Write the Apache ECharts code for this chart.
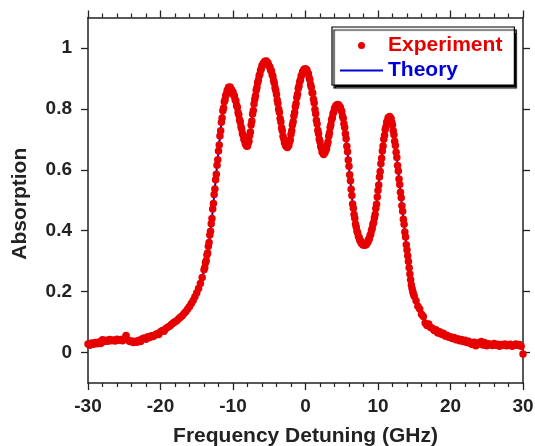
<!DOCTYPE html>
<html>
<head>
<meta charset="utf-8">
<script src="https://cdn.jsdelivr.net/npm/echarts@6/dist/echarts.min.js"></script>
<style>html,body{margin:0;padding:0;background:#fff;}#c{width:535px;height:446px;}</style>
</head>
<body>
<div id="c"></div>
<script>
// Axis ticks
const xTicks = [-30, -20, -10, 0, 10, 20, 30];
const yTicks = [0, 0.2, 0.4, 0.6, 0.8, 1];

// Theory curve: x from -30 to 30, step 0.5 GHz
const theoryStart = -30, theoryStep = 0.5;
const theoryY = [
  0.030, 0.030, 0.031, 0.033, 0.035, 0.037, 0.038, 0.039, 0.040, 0.040,
  0.040, 0.040, 0.040, 0.041, 0.042, 0.044, 0.047, 0.051, 0.055, 0.060,
  0.065, 0.072, 0.081, 0.091, 0.101, 0.111, 0.122, 0.136, 0.152, 0.172,
  0.196, 0.226, 0.268, 0.330, 0.420, 0.540, 0.660, 0.773, 0.842, 0.870,
  0.853, 0.814, 0.755, 0.702, 0.680, 0.744, 0.830, 0.896, 0.940, 0.955,
  0.941, 0.905, 0.845, 0.770, 0.700, 0.675, 0.715, 0.790, 0.865, 0.914,
  0.930, 0.904, 0.850, 0.765, 0.690, 0.652, 0.680, 0.750, 0.800, 0.812,
  0.790, 0.720, 0.610, 0.490, 0.410, 0.370, 0.355, 0.360, 0.390, 0.440,
  0.530, 0.640, 0.730, 0.772, 0.745, 0.660, 0.550, 0.440, 0.335, 0.238,
  0.186, 0.155, 0.130, 0.107, 0.091, 0.079, 0.070, 0.063, 0.058, 0.053,
  0.049, 0.045, 0.041, 0.038, 0.036, 0.034, 0.032, 0.031, 0.030, 0.029,
  0.028, 0.027, 0.027, 0.026, 0.026, 0.025, 0.025, 0.025, 0.024, 0.024,
  0.024
];

// Experiment, left wing: x from -30 to -14.25, step 0.25 GHz
const expLeftStart = -30, expLeftStep = 0.25;
const expLeftY = [
  0.028, 0.024, 0.031, 0.027, 0.033, 0.029, 0.035, 0.030,
  0.042, 0.036, 0.040, 0.037, 0.043, 0.039, 0.041, 0.038,
  0.044, 0.040, 0.043, 0.039, 0.045, 0.056, 0.041, 0.036,
  0.038, 0.033, 0.037, 0.034, 0.040, 0.036, 0.045, 0.048,
  0.044, 0.052, 0.049, 0.055, 0.053, 0.058, 0.062, 0.059,
  0.068, 0.072, 0.070, 0.079, 0.083, 0.086, 0.092, 0.097,
  0.101, 0.104, 0.111, 0.116, 0.121, 0.128, 0.135, 0.143,
  0.151, 0.161, 0.171, 0.183, 0.196, 0.210, 0.227, 0.246
];

// Experiment, centre: x from -14 to 15, step 0.1 GHz
const expMidStart = -14, expMidStep = 0.1;
const expMidY = [
  0.272, 0.278, 0.295, 0.301, 0.320, 0.327, 0.349, 0.361, 0.386, 0.398,
  0.423, 0.440, 0.471, 0.489, 0.519, 0.537, 0.567, 0.585, 0.615, 0.633,
  0.662, 0.681, 0.711, 0.728, 0.756, 0.770, 0.794, 0.803, 0.823, 0.830,
  0.844, 0.849, 0.861, 0.862, 0.871, 0.868, 0.872, 0.864, 0.863, 0.856,
  0.855, 0.845, 0.842, 0.830, 0.826, 0.811, 0.805, 0.788, 0.781, 0.764,
  0.757, 0.741, 0.734, 0.719, 0.713, 0.700, 0.696, 0.685, 0.684, 0.677,
  0.678, 0.688, 0.694, 0.712, 0.724, 0.747, 0.760, 0.783, 0.795, 0.816,
  0.832, 0.843, 0.861, 0.870, 0.886, 0.894, 0.908, 0.914, 0.927, 0.931,
  0.942, 0.944, 0.951, 0.950, 0.956, 0.953, 0.957, 0.951, 0.952, 0.944,
  0.939, 0.937, 0.927, 0.924, 0.912, 0.907, 0.892, 0.885, 0.869, 0.860,
  0.847, 0.829, 0.818, 0.799, 0.788, 0.768, 0.757, 0.738, 0.728, 0.710,
  0.702, 0.689, 0.686, 0.677, 0.678, 0.673, 0.679, 0.680, 0.692, 0.699,
  0.717, 0.728, 0.747, 0.758, 0.777, 0.788, 0.807, 0.818, 0.837, 0.848,
  0.867, 0.874, 0.889, 0.895, 0.908, 0.912, 0.922, 0.923, 0.930, 0.928,
  0.932, 0.927, 0.928, 0.918, 0.915, 0.902, 0.896, 0.880, 0.871, 0.853,
  0.852, 0.832, 0.819, 0.798, 0.784, 0.763, 0.750, 0.730, 0.718, 0.700,
  0.692, 0.677, 0.670, 0.658, 0.656, 0.650, 0.656, 0.657, 0.666, 0.669,
  0.682, 0.691, 0.710, 0.721, 0.739, 0.748, 0.764, 0.771, 0.785, 0.790,
  0.802, 0.803, 0.811, 0.809, 0.814, 0.810, 0.813, 0.806, 0.805, 0.795,
  0.792, 0.777, 0.769, 0.751, 0.739, 0.718, 0.702, 0.677, 0.659, 0.632,
  0.612, 0.584, 0.564, 0.536, 0.516, 0.488, 0.474, 0.453, 0.441, 0.422,
  0.412, 0.398, 0.393, 0.381, 0.378, 0.368, 0.367, 0.359, 0.360, 0.354,
  0.353, 0.356, 0.352, 0.357, 0.355, 0.362, 0.362, 0.371, 0.373, 0.384,
  0.388, 0.401, 0.407, 0.421, 0.427, 0.442, 0.453, 0.473, 0.487, 0.511,
  0.532, 0.550, 0.576, 0.594, 0.620, 0.638, 0.662, 0.678, 0.700, 0.713,
  0.732, 0.741, 0.756, 0.761, 0.771, 0.770, 0.775, 0.769, 0.768, 0.755,
  0.747, 0.728, 0.715, 0.694, 0.680, 0.658, 0.640, 0.614, 0.596, 0.570,
  0.552, 0.526, 0.508, 0.482, 0.464, 0.438, 0.421, 0.396, 0.379, 0.354,
  0.337, 0.318, 0.299, 0.278, 0.258, 0.239, 0.222, 0.210, 0.200, 0.192,
  0.185
];

// Experiment, right wing: x from 15.25 to 30, step 0.25 GHz
const expRightStart = 15.25, expRightStep = 0.25;
const expRightY = [
  0.170, 0.152, 0.143, 0.126,
  0.118, 0.097, 0.089, 0.094, 0.082, 0.080, 0.072, 0.075,
  0.064, 0.068, 0.060, 0.063, 0.054, 0.057, 0.050, 0.052,
  0.046, 0.049, 0.042, 0.045, 0.039, 0.043, 0.036, 0.040,
  0.033, 0.037, 0.030, 0.026, 0.034, 0.022, 0.031, 0.028,
  0.036, 0.025, 0.032, 0.022, 0.029, 0.026, 0.023, 0.030,
  0.024, 0.027, 0.021, 0.026, 0.024, 0.028, 0.022, 0.025,
  0.027, 0.021, 0.024, 0.028, 0.023, 0.026, 0.021, -0.005
];

function pairs(start, step, ys) {
  return ys.map((y, i) => [+(start + i * step).toFixed(3), y]);
}
const theoryData = pairs(theoryStart, theoryStep, theoryY);
const expData = [].concat(
  pairs(expLeftStart, expLeftStep, expLeftY),
  pairs(expMidStart, expMidStep, expMidY),
  pairs(expRightStart, expRightStep, expRightY)
);

const FONT = "'Liberation Sans', Arial, sans-serif";
const AX = '#222';
const RED = '#e60000';
const BLUE = '#0000d8';

const chart = echarts.init(document.getElementById('c'), null, {renderer: 'canvas'});
const xCommon = {
  type: 'value', min: -30, max: 30, interval: 10,
  axisLine: {show: true, onZero: false, lineStyle: {color: AX, width: 1.5}},
  axisTick: {show: true, inside: false, length: 7, lineStyle: {color: AX, width: 1.3}},
  minorTick: {show: true, splitNumber: 5, length: 4, lineStyle: {color: AX, width: 1.2}},
  splitLine: {show: false}, minorSplitLine: {show: false}
};
const yCommon = {
  type: 'value', min: -0.1, max: 1.1,
  axisLine: {show: true, onZero: false, lineStyle: {color: AX, width: 1.5}},
  axisTick: {show: true, inside: false, length: 7, customValues: yTicks, lineStyle: {color: AX, width: 1.3}},
  splitLine: {show: false}
};
chart.setOption({
  animation: false,
  backgroundColor: '#fff',
  grid: {left: 88, right: 12, top: 17.5, bottom: 63, containLabel: false, outerBoundsMode: 'none'},
  legend: {
    orient: 'vertical', left: 332, top: 27,
    padding: [8, 12, 4, 8], itemGap: 4,
    itemWidth: 43, itemHeight: 7,
    backgroundColor: '#fff', borderColor: '#000', borderWidth: 1.2,
    shadowColor: '#000', shadowOffsetX: 2, shadowOffsetY: 3, shadowBlur: 1,
    textStyle: {fontFamily: FONT, fontWeight: 'bold', fontSize: 21},
    data: [
      {name: 'Experiment', icon: 'circle', textStyle: {color: RED}},
      {name: 'Theory', icon: 'path://M0,0L43,0L43,2.2L0,2.2Z', textStyle: {color: BLUE}}
    ]
  },
  xAxis: [
    Object.assign({}, xCommon, {
      position: 'bottom',
      axisLabel: {show: true, margin: 14.5, color: AX, fontFamily: FONT, fontWeight: 'bold', fontSize: 19,
        customValues: xTicks},
      name: 'Frequency Detuning (GHz)', nameLocation: 'middle', nameGap: 43, nameMoveOverlap: false,
      nameTextStyle: {color: AX, fontFamily: FONT, fontWeight: 'bold', fontSize: 21}
    }),
    Object.assign({}, xCommon, {position: 'top', axisLabel: {show: false}})
  ],
  yAxis: [
    Object.assign({}, yCommon, {
      position: 'left',
      axisLabel: {show: true, margin: 16, color: AX, fontFamily: FONT, fontWeight: 'bold', fontSize: 19,
        customValues: yTicks},
      name: 'Absorption', nameLocation: 'middle', nameGap: 57, nameRotate: 90, nameMoveOverlap: false,
      nameTextStyle: {color: AX, fontFamily: FONT, fontWeight: 'bold', fontSize: 21, padding: [0, 7, 0, 0]}
    }),
    Object.assign({}, yCommon, {position: 'right', axisLabel: {show: false}})
  ],
  series: [
    {
      name: 'Theory', type: 'line', xAxisIndex: 0, yAxisIndex: 0,
      data: theoryData, smooth: 0.4, symbol: 'none', z: 2,
      lineStyle: {color: BLUE, width: 2}, itemStyle: {color: BLUE}
    },
    {
      name: 'Experiment', type: 'scatter', xAxisIndex: 0, yAxisIndex: 0,
      data: expData, symbol: 'circle', symbolSize: 7.5, z: 3,
      itemStyle: {color: RED, opacity: 1}
    }
  ]
});
</script>
</body>
</html>
